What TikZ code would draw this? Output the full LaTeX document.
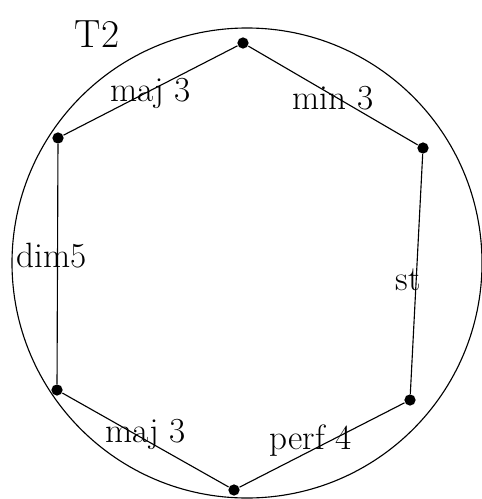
\documentclass[tikz,border=0pt]{standalone}
\usepackage{tikz}
\usetikzlibrary{positioning}

\tikzset{
  vtx/.style={circle, fill=black, inner sep=0pt, minimum size=8pt},
  ivl/.style={font=\fontsize{25}{30}\selectfont, inner sep=1pt},
}

\begin{document}
\begin{tikzpicture}[x=0.025cm, y=-0.025cm, thick]
  \useasboundingbox (0,0) rectangle (481,499);

  % outer circle
  \draw (247,263) circle [radius=235];
  \node[font=\fontsize{28}{32}\selectfont] (title) at (97,34) {T2};

  % hexagon vertices
  \node[vtx] (top) at (243,43) {};
  \node[vtx] (ur) at (423,148) {};
  \node[vtx] (lr) at (410,400) {};
  \node[vtx] (bot) at (234,490) {};
  \node[vtx] (ll) at (57,390) {};
  \node[vtx] (ul) at (58,138) {};

  % edges with interval names
  \draw (ul) -- node[ivl, yshift=-2pt] (e1) {maj 3} (top);
  \draw (top) -- node[ivl, yshift=-2pt] (e2) {min 3} (ur);
  \draw (ur) -- node[ivl, xshift=-6pt, yshift=-4pt] (e3) {st} (lr);
  \draw (lr) -- node[ivl, xshift=-8pt, yshift=3pt] (e4) {perf 4} (bot);
  \draw (bot) -- node[ivl, yshift=4pt] (e5) {maj 3} (ll);
  \draw (ll) -- node[ivl, xshift=-4pt, yshift=6pt] (e6) {dim5} (ul);
\end{tikzpicture}
\end{document}
